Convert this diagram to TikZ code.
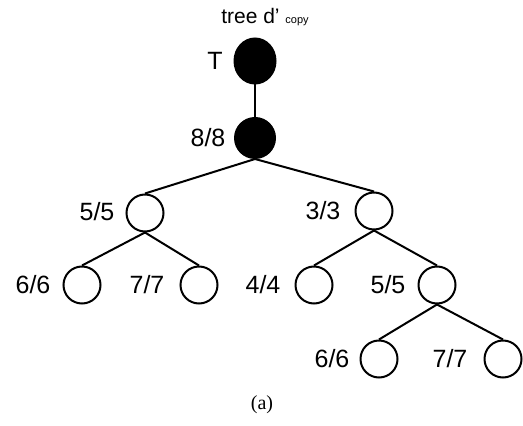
\documentclass[tikz,border=0pt]{standalone}
\usepackage{fontspec}
\setmainfont{Liberation Sans}
\newfontfamily\capfont{Liberation Serif}
\usetikzlibrary{shapes.geometric}
\tikzset{
  vtx/.style={ellipse,draw=black,line width=1pt,fill=white,inner sep=0pt,minimum width=18.5pt,minimum height=18.5pt},
  blk/.style={ellipse,draw=black,line width=1pt,fill=black,inner sep=0pt},
  lbl/.style={font=\fontsize{12.5}{14}\selectfont,inner sep=0pt},
  edge/.style={line width=1pt}
}
\begin{document}
\begin{tikzpicture}[x=0.5pt,y=-0.5pt]
\useasboundingbox (0,0) rectangle (523,426);
% black nodes
\node[blk,minimum width=20.5pt,minimum height=22.5pt] (T) at (255,61) {};
\node[blk,minimum width=20pt,minimum height=20pt] (r) at (255,138) {};
% white nodes
\node[vtx] (a) at (145,213) {};
\node[vtx] (b) at (374,211) {};
\node[vtx] (aa) at (82,285) {};
\node[vtx] (ab) at (199,285) {};
\node[vtx] (ba) at (314,285) {};
\node[vtx] (bb) at (437,285) {};
\node[vtx] (bba) at (379,359) {};
\node[vtx] (bbb) at (503,359) {};
% edges
\draw[edge] (T.south) -- (r.north);
\draw[edge] (r.south) -- (a.north);
\draw[edge] (r.south) -- (b.north);
\draw[edge] (a.south) -- (aa.north);
\draw[edge] (a.south) -- (ab.north);
\draw[edge] (b.south) -- (ba.north);
\draw[edge] (b.south) -- (bb.north);
\draw[edge] (bb.south) -- (bba.north);
\draw[edge] (bb.south) -- (bbb.north);
% labels
\node[font=\fontsize{10.5}{12}\selectfont,inner sep=0pt] (title) at (265,17) {tree d' {\fontsize{5.5}{6}\selectfont copy}};
\node[lbl] (lT) at (215,61) {T};
\node[lbl] (lr) at (208,138) {8/8};
\node[lbl] (la) at (97,212) {5/5};
\node[lbl] (lb) at (323,211) {3/3};
\node[lbl] (laa) at (33,285) {6/6};
\node[lbl] (lab) at (147,285) {7/7};
\node[lbl] (lba) at (263,285) {4/4};
\node[lbl] (lbb) at (388,285) {5/5};
\node[lbl] (lbba) at (332,359) {6/6};
\node[lbl] (lbbb) at (450,359) {7/7};
\node[font=\capfont\fontsize{10}{12}\selectfont,inner sep=0pt] (cap) at (262,405) {(a)};
\end{tikzpicture}
\end{document}
